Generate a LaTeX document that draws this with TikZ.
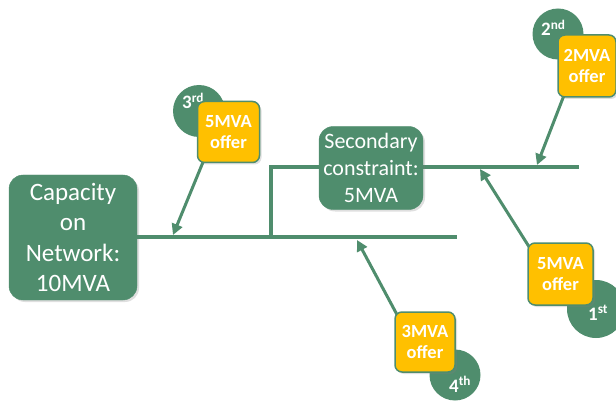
\documentclass[tikz,border=0pt]{standalone}
\usepackage{fontspec}
\setmainfont{Carlito}
\usetikzlibrary{arrows.meta,shadows,calc}
\definecolor{grn}{HTML}{4F8D6D}
\definecolor{ylw}{HTML}{FFC000}
\begin{document}
\begin{tikzpicture}[x=1pt,y=-1pt,
  bigbox/.style={draw=grn, fill=grn, rounded corners=14pt, text=white, align=center,
    inner sep=0pt, drop shadow={opacity=0.25, shadow xshift=2pt, shadow yshift=-2pt}},
  offerbox/.style={draw=grn, line width=1.5pt, fill=ylw, rounded corners=7pt, text=white,
    font=\bfseries\fontsize{18.5}{21}\selectfont, align=center, inner sep=0pt,
    minimum width=62pt, minimum height=61pt,
    drop shadow={opacity=0.25, shadow xshift=2pt, shadow yshift=-2pt}},
  rankdot/.style={circle, fill=grn, inner sep=0pt},
  ranktext/.style={text=white, font=\bfseries\fontsize{19}{21}\selectfont, inner sep=0pt, anchor=base west},
  bus/.style={draw=grn, line width=4pt},
  feed/.style={draw=grn, line width=3pt, -{Triangle[length=11pt,width=11pt]}}]

\useasboundingbox (0,0) rectangle (616,401);

% rank circles (behind the offer boxes)
\node[rankdot, minimum size=52pt] (c3) at (199,111) {};
\node[rankdot, minimum size=51pt] (c2) at (558,34) {};
\node[rankdot, minimum size=58pt] (c1) at (596,309) {};
\node[rankdot, minimum size=51pt] (c4) at (455,375) {};
\node[ranktext] (r3) at (182,109) {3\textsuperscript{rd}};
\node[ranktext] (r2) at (541,36) {2\textsuperscript{nd}};
\node[ranktext] (r1) at (588,320) {1\textsuperscript{st}};
\node[ranktext] (r4) at (449,392) {4\textsuperscript{th}};

% bus lines
\coordinate (mainend) at (457,237);
\coordinate (j) at (271,237);
\coordinate (secend) at (579,167);
\node[bigbox, minimum width=128pt, minimum height=125pt,
  font=\fontsize{25}{30.5}\selectfont] (cap) at (73,237.5) {Capacity\\on\\Network:\\10MVA};
\draw[bus] (cap.east |- j) -- (mainend);
\draw[bus] (j) |- (secend);
\node[bigbox, minimum width=104pt, minimum height=83pt,
  font=\fontsize{22}{27}\selectfont] (sec) at (371,168) {Secondary\\constraint:\\5MVA};

% arrow tips on the lines
\coordinate (t3) at (173,235);
\coordinate (t2) at (537,165);
\coordinate (t1) at (480,169);
\coordinate (t4) at (357,240);

% offer boxes positions (for arrow starts)
\coordinate (p3) at (228.5,132);
\coordinate (p2) at (587,66);
\coordinate (p1) at (560.5,274);
\coordinate (p4) at (425,342);

\draw[feed] ($(p3)+(-20.5,18)$) -- (t3);
\draw[feed] ($(p2)+(-19,19)$) -- (t2);
\draw[feed] ($(p1)+(-25,-17)$) -- (t1);
\draw[feed] ($(p4)+(-23,-18)$) -- (t4);

\node[offerbox] (o3) at (p3) {5MVA\\offer};
\node[offerbox, minimum width=58pt, minimum height=62pt] (o2) at (p2) {2MVA\\offer};
\node[offerbox, minimum width=65pt, minimum height=62pt] (o1) at (p1) {5MVA\\offer};
\node[offerbox, minimum width=60pt, minimum height=60pt] (o4) at (p4) {3MVA\\offer};
\end{tikzpicture}
\end{document}
